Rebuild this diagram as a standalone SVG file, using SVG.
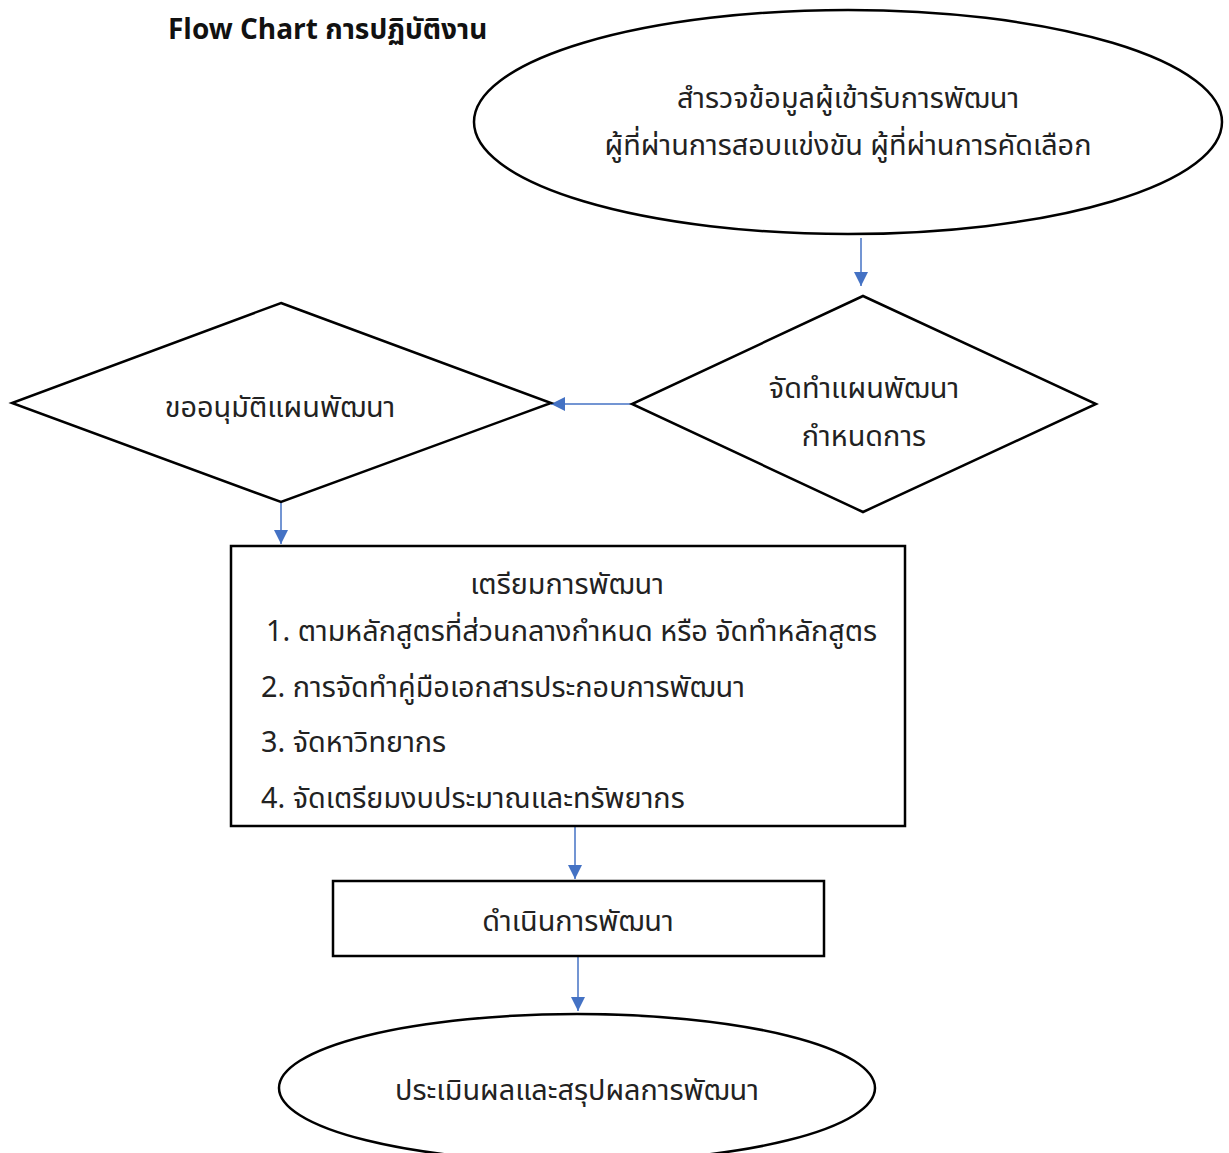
<svg xmlns="http://www.w3.org/2000/svg" width="1229" height="1153" viewBox="0 0 1229 1153">
<style>
.shape{fill:#ffffff;stroke:#000000;stroke-width:2.5}
.t{font-family:"Noto Sans Thai","Noto Sans","DejaVu Sans",sans-serif;font-size:28.8px;fill:#222222}
.c{text-anchor:middle}
.conn{stroke:#4472C4;stroke-width:1.5;fill:none}
.title{font-family:"Noto Sans Thai","Noto Sans","DejaVu Sans",sans-serif;font-size:28px;font-weight:bold;fill:#111111}
</style>
<defs>
<marker id="ah" viewBox="0 0 10 10" refX="10" refY="5" markerWidth="15" markerHeight="14" markerUnits="userSpaceOnUse" orient="auto">
<path d="M0,0 L10,5 L0,10 Z" fill="#4472C4"/>
</marker>
</defs>
<rect width="1229" height="1153" fill="#ffffff"/>
<text class="title" x="168" y="39">Flow Chart การปฏิบัติงาน</text>
<g id="connectors">
<line class="conn" x1="861" y1="238" x2="861" y2="286" marker-end="url(#ah)"/>
<line class="conn" x1="632" y1="404" x2="551" y2="404" marker-end="url(#ah)"/>
<line class="conn" x1="281" y1="502" x2="281" y2="544" marker-end="url(#ah)"/>
<line class="conn" x1="575" y1="826" x2="575" y2="879" marker-end="url(#ah)"/>
<line class="conn" x1="578" y1="956" x2="578" y2="1011" marker-end="url(#ah)"/>
</g>
<g id="survey">
<ellipse class="shape" cx="848" cy="122" rx="374" ry="112"/>
<text class="t c" x="848" y="108">สำรวจข้อมูลผู้เข้ารับการพัฒนา</text>
<text class="t c" x="848" y="155">ผู้ที่ผ่านการสอบแข่งขัน ผู้ที่ผ่านการคัดเลือก</text>
</g>
<g id="plan">
<polygon class="shape" points="863,296 1096,404 863,512 632,404"/>
<text class="t c" x="864" y="398">จัดทำแผนพัฒนา</text>
<text class="t c" x="864" y="446">กำหนดการ</text>
</g>
<g id="approve">
<polygon class="shape" points="281,303 551,403 281,502 12,403"/>
<text class="t c" x="280" y="417">ขออนุมัติแผนพัฒนา</text>
</g>
<g id="prepare">
<rect class="shape" x="231" y="546" width="674" height="280"/>
<text class="t c" x="567" y="594">เตรียมการพัฒนา</text>
<text class="t" x="266" y="641">1. ตามหลักสูตรที่ส่วนกลางกำหนด หรือ จัดทำหลักสูตร</text>
<text class="t" x="261" y="697">2. การจัดทำคู่มือเอกสารประกอบการพัฒนา</text>
<text class="t" x="261" y="752">3. จัดหาวิทยากร</text>
<text class="t" x="261" y="808">4. จัดเตรียมงบประมาณและทรัพยากร</text>
</g>
<g id="execute">
<rect class="shape" x="333" y="881" width="491" height="75"/>
<text class="t c" x="578" y="931">ดำเนินการพัฒนา</text>
</g>
<g id="evaluate">
<ellipse class="shape" cx="577" cy="1088" rx="298" ry="74"/>
<text class="t c" x="577" y="1100">ประเมินผลและสรุปผลการพัฒนา</text>
</g>
</svg>
